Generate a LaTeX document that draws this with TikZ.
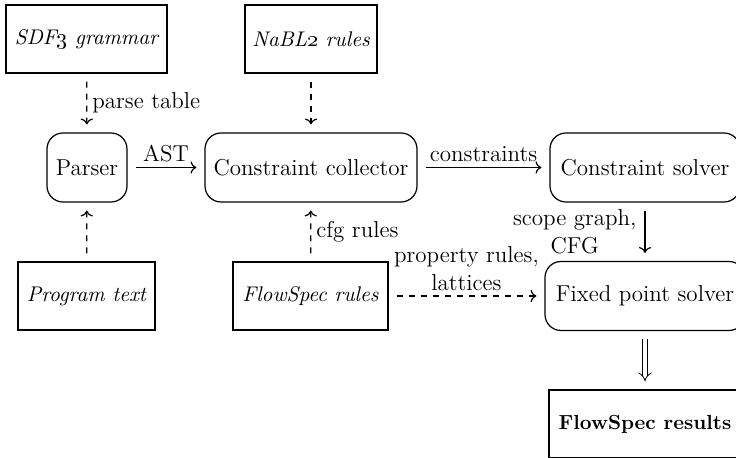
\documentclass[tikz,border=0pt]{standalone}
\usetikzlibrary{arrows.meta}

\newcommand{\figfont}{\fontsize{11.5}{13.8}\selectfont}
\newcommand{\itfont}{\fontsize{10.6}{13.8}\selectfont\itshape}
\newcommand{\bffont}{\fontsize{10.2}{13.8}\selectfont\bfseries}

\tikzset{
  px/.style={x=0.5pt,y=-0.5pt},
  base/.style={draw,line width=0.6pt,align=center,inner sep=0pt,font=\figfont},
  source/.style={base,rectangle,minimum height=34pt,font=\itfont},
  result/.style={base,rectangle,minimum height=34pt,font=\bffont},
  stage/.style={base,rounded corners=8pt,minimum height=34.5pt},
  flow/.style={->,line width=0.6pt,shorten <=4pt,shorten >=4pt},
  dflow/.style={flow,dashed},
  lbl/.style={font=\figfont,align=center,inner sep=2.5pt}
}

\begin{document}
\begin{tikzpicture}[px]
  \useasboundingbox (0,0) rectangle (736,458);

  % inputs
  \node[source,minimum width=80.5pt] (sdf)   at (86.5,39)  {SDF\oldstylenums{3} grammar};
  \node[source,minimum width=66pt]   (nabl)  at (311,39)   {NaBL\oldstylenums{2} rules};
  \node[source,minimum width=68.5pt] (prog)  at (86.5,296) {Program text};
  \node[source,minimum width=77.5pt] (fspec) at (310.5,296){FlowSpec rules};

  % processing stages
  \node[stage,minimum width=40pt]  (parser)    at (87,167.5)  {Parser};
  \node[stage,minimum width=106pt] (collector) at (311,167.5) {Constraint collector};
  \node[stage,minimum width=95pt]  (csolver)   at (645,167.5) {Constraint solver};
  \node[stage,minimum width=100pt] (fpsolver)  at (645,296)   {Fixed point solver};

  % output
  \node[result,minimum width=96pt] (results) at (645,424) {FlowSpec results};

  % connectors
  \draw[dflow] (sdf) -- node[lbl,right] {parse table} (parser);
  \draw[dflow] (nabl) -- (collector);
  \draw[dflow] (prog) -- (parser);
  \draw[dflow] (fspec) -- node[lbl,right] {cfg rules} (collector);
  \draw[flow] (parser) -- node[lbl,above] {AST} (collector);
  \draw[flow] (collector) -- node[lbl,above] {constraints} (csolver);
  \draw[flow] (csolver) -- node[lbl,left,inner sep=4pt] {scope graph,\\CFG} (fpsolver);
  \draw[dflow] (fspec) -- node[lbl,above] {property rules,\\lattices} (fpsolver);
  \draw[line width=0.4pt,double distance=2pt,-{Implies},shorten <=4pt,shorten >=4pt]
    (fpsolver) -- (results);
\end{tikzpicture}
\end{document}
